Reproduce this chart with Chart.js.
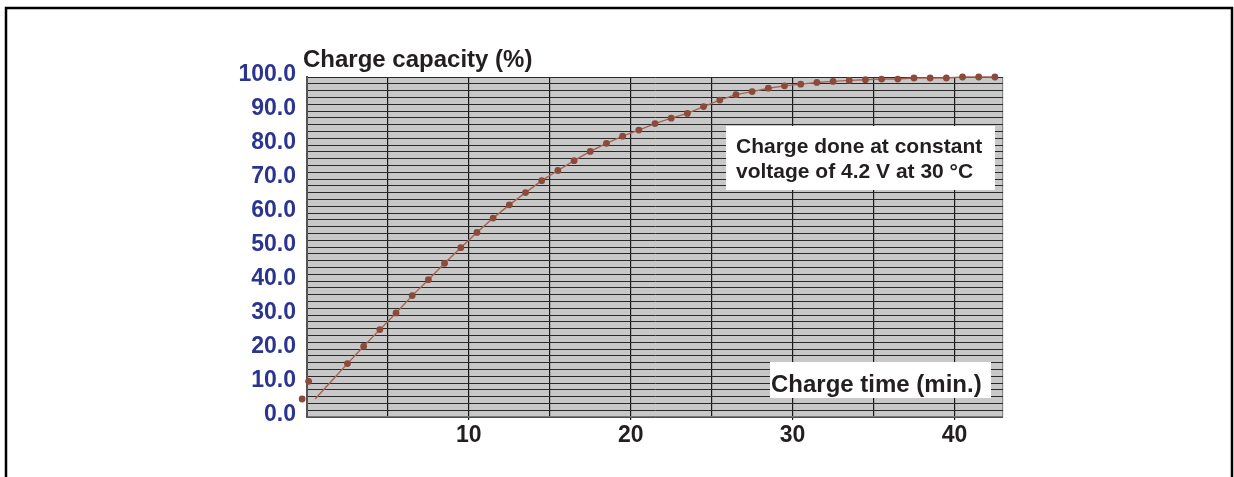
<!DOCTYPE html>
<html>
<head>
<meta charset="utf-8">
<script src="https://cdn.jsdelivr.net/npm/chart.js@4/dist/chart.umd.min.js"></script>
<style>
  body { margin: 0; background: #fff; }
  canvas { display: block; }
</style>
</head>
<body>
<canvas id="chargeChart" width="1234" height="477"></canvas>
<script>
// values
const chargeTime = [0.5, 1.5, 2.5, 3.5, 4.5, 5.5, 6.5, 7.5, 8.5, 9.5, 10.5, 11.5, 12.5, 13.5, 14.5,
    15.5, 16.5, 17.5, 18.5, 19.5, 20.5, 21.5, 22.5, 23.5, 24.5, 25.5, 26.5, 27.5, 28.5, 29.5,
    30.5, 31.5, 32.5, 33.5, 34.5, 35.5, 36.5, 37.5, 38.5, 39.5, 40.5, 41.5, 42.5];
const chargeCapacity = [5.3, 10.5, 15.7, 20.8, 25.7, 30.6, 35.7, 40.4, 45.2, 49.8, 54.3, 58.5, 62.4, 66.0, 69.5,
    72.5, 75.4, 78.1, 80.5, 82.6, 84.4, 86.3, 87.9, 89.3, 91.3, 93.2, 94.8, 95.7, 96.7, 97.4,
    97.9, 98.4, 98.7, 99.0, 99.2, 99.4, 99.4, 99.7, 99.7, 99.7, 100, 100, 100];
// the first two markers sit left of where the line starts
const offsetMarkerTime = [-0.3, 0.1];
const offsetMarkerCapacity = [5.3, 10.5];

const xGridValues = [0, 5, 10, 15, 20, 25, 30, 35, 40, 43];
const xTickLabels = [10, 20, 30, 40];
const yTickLabels = [0, 10, 20, 30, 40, 50, 60, 70, 80, 90, 100];

const markerColor = '#8b4a3b';
const lineColor = '#a8644f';
const textColor = '#231f20';
const blue = '#2b3590';
const font = '"Liberation Sans", Arial, Helvetica, sans-serif';
const markerRadius = 3.4;

const frameAndText = {
    id: 'frameAndText',
    beforeDraw(chart) {
        const { ctx, chartArea } = chart;
        ctx.save();
        ctx.fillStyle = '#c8c8c8';
        ctx.fillRect(chartArea.left, chartArea.top, chartArea.width, chartArea.height);
        ctx.restore();
    },
    afterDatasetsDraw(chart) {
        // Chart.js skips points outside the chart area, so draw these two here
        const { ctx, scales } = chart;
        ctx.save();
        ctx.fillStyle = markerColor;
        offsetMarkerTime.forEach((t, i) => {
            ctx.beginPath();
            ctx.arc(scales.x.getPixelForValue(t), scales.y.getPixelForValue(offsetMarkerCapacity[i]), markerRadius, 0, Math.PI * 2);
            ctx.fill();
        });
        ctx.restore();
    },
    afterDraw(chart) {
        const ctx = chart.ctx;
        ctx.save();
        // outer frame (bottom edge is off the page)
        ctx.strokeStyle = '#000';
        ctx.lineWidth = 2.5;
        ctx.beginPath();
        ctx.moveTo(6, 480);
        ctx.lineTo(6, 8);
        ctx.lineTo(1232, 8);
        ctx.lineTo(1232, 480);
        ctx.stroke();

        ctx.fillStyle = textColor;
        ctx.textBaseline = 'alphabetic';
        ctx.font = 'bold 24px ' + font;
        ctx.fillText('Charge capacity (%)', 303, 67);

        // note box
        ctx.fillStyle = '#fff';
        ctx.fillRect(726, 126, 269, 64);
        ctx.fillStyle = textColor;
        ctx.font = 'bold 21px ' + font;
        ctx.fillText('Charge done at constant', 736, 153);
        ctx.fillText('voltage of 4.2 V at 30 \u00b0C', 736, 178);

        // x axis title box
        ctx.fillStyle = '#fff';
        ctx.fillRect(770, 362, 221, 36);
        ctx.fillStyle = textColor;
        ctx.font = 'bold 24px ' + font;
        ctx.fillText('Charge time (min.)', 771, 391.5);
        ctx.restore();
    }
};

new Chart(document.getElementById('chargeChart'), {
    type: 'scatter',
    data: {
        datasets: [
            {
                label: 'Charge capacity',
                data: chargeTime.map((t, i) => ({ x: t, y: chargeCapacity[i] })),
                showLine: true,
                borderColor: lineColor,
                borderWidth: 1.4,
                backgroundColor: markerColor,
                pointBorderColor: markerColor,
                pointRadius: chargeTime.map((t, i) => i < 2 ? 0 : markerRadius),
                pointBorderWidth: 0,
                clip: false
            }
        ]
    },
    options: {
        responsive: false,
        devicePixelRatio: 1,
        animation: false,
        layout: { padding: { top: 77, right: 231, bottom: 0, left: 0 } },
        plugins: {
            legend: { display: false },
            tooltip: { enabled: false }
        },
        scales: {
            x: {
                type: 'linear',
                min: 0,
                max: 43,
                afterBuildTicks: scale => { scale.ticks = xGridValues.map(v => ({ value: v })); },
                afterFit: scale => { scale.height = 60; },
                grid: {
                    color: c => c.tick && c.tick.value === 43 ? '#888' : '#1a1a1a',
                    lineWidth: 1.2,
                    tickLength: 3,
                    tickColor: c => c.tick && xTickLabels.includes(c.tick.value) ? '#1a1a1a' : 'rgba(0,0,0,0)'
                },
                border: { color: '#777', width: 1.5 },
                ticks: {
                    autoSkip: false,
                    maxRotation: 0,
                    padding: 2,
                    color: textColor,
                    font: { family: font, size: 23, weight: 'bold' },
                    callback: v => xTickLabels.includes(v) ? String(v) : ''
                }
            },
            y: {
                min: 0,
                max: 100,
                afterFit: scale => { scale.width = 307; },
                grid: { color: '#2a2a2a', lineWidth: 1, drawTicks: false },
                border: { color: '#555', width: 2 },
                ticks: {
                    stepSize: 2,
                    autoSkip: false,
                    padding: 11,
                    labelOffset: -2,
                    color: blue,
                    font: { family: font, size: 23, weight: 'bold' },
                    callback: v => yTickLabels.includes(v) ? v.toFixed(1) : ''
                }
            }
        }
    },
    plugins: [frameAndText]
});
</script>
</body>
</html>
